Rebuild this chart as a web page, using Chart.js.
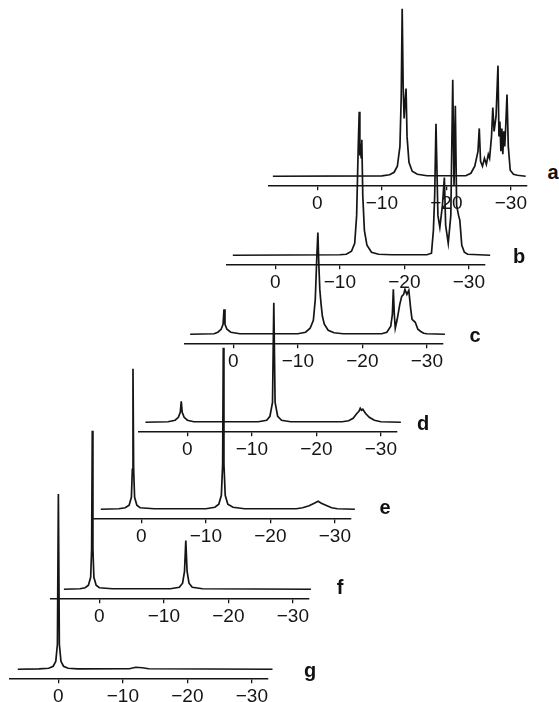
<!DOCTYPE html>
<html>
<head>
<meta charset="utf-8">
<script src="https://cdn.jsdelivr.net/npm/chart.js@4"></script>
<style>
  html, body { margin: 0; padding: 0; background: #fff; }
  #stage { position: relative; width: 559px; height: 702px; overflow: hidden; }
  #stage canvas { position: absolute; }
  .tag { position: absolute; font: bold 20px "Liberation Sans", Arial, sans-serif; color: #111; transform: translate(-50%, -50%); }
</style>
</head>
<body>
<div id="stage"></div>
<script>
const traces = ['a', 'b', 'c', 'd', 'e', 'f', 'g'];
const tickValues = [0, -10, -20, -30];

// chemical shift (ppm) and signal height
const aShift = [6.9, -10, -11.2, -11.9, -12.4, -12.8, -13.0, -13.15, -13.3, -13.45, -13.6, -13.75, -13.9, -14.2, -14.7, -15.5, -17, -23.0, -23.8, -24.4, -24.9, -25.1, -25.3, -25.6, -25.9, -26.2, -26.5, -26.7, -27.0, -27.2, -27.4, -27.7, -28.0, -28.15, -28.3, -28.45, -28.6, -28.75, -28.9, -29.05, -29.2, -29.4, -29.6, -29.9, -30.4, -31, -32.3];
const aHeight = [0, 0.3, 1.5, 4, 10, 30, 80, 168, 90, 58, 75, 88, 40, 14, 5, 2, 0.5, 0.5, 3, 10, 25, 48, 15, 10, 18, 12, 22, 18, 40, 69, 45, 60, 111, 40, 55, 25, 48, 22, 45, 30, 50, 82, 30, 6, 2, 1, 0];

const bShift = [6.6, -10, -11, -11.8, -12.3, -12.6, -12.85, -13.0, -13.1, -13.2, -13.3, -13.4, -13.55, -13.8, -14.2, -14.9, -16, -18, -23.5, -24.2, -24.5, -24.7, -24.9, -25.2, -25.5, -25.9, -26.2, -26.4, -26.8, -27.2, -27.5, -27.7, -27.9, -28.1, -28.4, -28.6, -28.9, -29.3, -29.8, -33.3];
const bHeight = [0, 0.5, 1, 4, 12, 40, 110, 144, 100, 112, 98, 116, 60, 25, 10, 3, 1, 0.5, 0.5, 2, 25, 60, 132, 40, 28, 50, 78, 30, 12, 40, 176, 70, 150, 50, 40, 35, 10, 3, 1, 0];

const cShift = [6.7, 3, 2.4, 1.9, 1.6, 1.45, 1.3, 1.0, 0.4, -1, -10, -11.2, -11.9, -12.4, -12.7, -12.95, -13.1, -13.25, -13.4, -13.6, -13.8, -14.1, -14.7, -15.6, -17, -23.0, -23.8, -24.4, -24.65, -24.8, -24.95, -25.1, -25.4, -25.8, -26.1, -26.4, -26.6, -26.9, -27.2, -27.5, -27.7, -28.2, -28.6, -29.0, -29.5, -30, -32.8];
const cHeight = [0, 0.5, 2, 5, 10, 25, 10, 5, 2, 0.5, 0.5, 2, 6, 14, 35, 80, 102, 70, 45, 30, 18, 10, 4, 1.5, 0.5, 0.5, 2, 8, 20, 45, 20, 6, 15, 30, 38, 40, 45, 40, 44, 25, 15, 12, 5, 3, 1, 0.5, 0];

const dShift = [6.5, 3, 1.9, 1.4, 1.1, 0.95, 0.8, 0.5, 0, -1, -11, -12.3, -12.8, -13.2, -13.4, -13.6, -14, -14.6, -16, -24, -25, -25.7, -26.3, -26.6, -26.8, -27.0, -27.2, -27.6, -28.2, -29, -30, -33.1];
const dHeight = [0, 0.5, 2, 5, 10, 21, 10, 5, 2, 0.5, 0.5, 2, 6, 20, 120, 20, 6, 2, 0.5, 0.5, 1.5, 4, 9, 11, 14, 12, 13, 9, 5, 2, 0.5, 0];

const eShift = [6.3, 3.5, 2.5, 1.9, 1.55, 1.4, 1.3, 1.2, 1.05, 0.7, 0.2, -2, -10, -11.4, -12.0, -12.4, -12.6, -12.7, -12.8, -13.0, -13.4, -14.2, -16, -24, -25, -26, -26.8, -27.4, -27.9, -28.6, -29.5, -30.4, -33.1];
const eHeight = [0, 0.5, 1.5, 4, 12, 40, 141, 40, 12, 4, 1.5, 0.5, 0.5, 2, 5, 14, 45, 162, 45, 14, 5, 2, 0.5, 0.5, 1.5, 3.5, 6, 8, 6, 4, 1.5, 0.5, 0];

const fShift = [5.5, 3, 2.2, 1.7, 1.35, 1.2, 1.1, 1.0, 0.85, 0.5, 0, -2, -11, -12.4, -12.9, -13.2, -13.4, -13.6, -13.9, -14.4, -16, -32.8];
const fHeight = [0, 0.5, 1.5, 4, 12, 40, 159, 40, 12, 4, 1.5, 0.5, 0.5, 2, 6, 18, 49, 18, 6, 2, 0.5, 0];

const gShift = [6.3, 3, 1.5, 0.8, 0.4, 0.15, 0, -0.15, -0.4, -0.8, -1.5, -3, -11, -12, -13, -14, -33.2];
const gHeight = [0, 0.3, 1, 3, 8, 25, 176, 25, 8, 3, 1, 0.3, 0.5, 2, 1.5, 0.5, 0];

const shifts = [aShift, bShift, cShift, dShift, eShift, fShift, gShift];
const heights = [aHeight, bHeight, cHeight, dHeight, eHeight, fHeight, gHeight];

// page layout: where each trace's 0 ppm tick and axis line land, and its letter
const zeroX = [317, 275, 233, 187, 141, 99, 58];
const axisY = [186, 265, 344, 432, 519, 599, 679];
const tagX = [553, 519, 475, 423, 385, 340, 310];
const tagY = [172, 256, 335, 423, 507, 587, 670];

const stage = document.getElementById('stage');
const ink = '#151515';
const labelFont = { family: '"Liberation Sans", Arial, sans-serif', size: 19 };

traces.forEach((name, i) => {
  const canvas = document.createElement('canvas');
  canvas.width = 282;
  canvas.height = 262;
  stage.appendChild(canvas);

  const chart = new Chart(canvas, {
    type: 'line',
    data: {
      datasets: [{
        label: name,
        data: shifts[i].map((x, k) => ({ x: x, y: heights[i][k] })),
        borderColor: ink,
        borderWidth: 1.7,
        pointRadius: 0,
        tension: 0,
        fill: false,
        clip: false
      }]
    },
    options: {
      responsive: false,
      animation: false,
      devicePixelRatio: 1,
      layout: { padding: { left: 12, right: 12, top: 0, bottom: 0 } },
      plugins: { legend: { display: false }, tooltip: { enabled: false } },
      scales: {
        x: {
          type: 'linear',
          reverse: true,
          min: -32.5,
          max: 7.5,
          afterBuildTicks: s => { s.ticks = tickValues.map(v => ({ value: v })); },
          border: { display: true, color: ink, width: 1.6 },
          grid: { display: true, drawOnChartArea: false, drawTicks: true, tickLength: 4, color: ink, lineWidth: 1.3 },
          ticks: {
            color: ink,
            font: labelFont,
            padding: 2,
            maxRotation: 0,
            autoSkip: false,
            callback: v => v === 0 ? '0' : '\u2212' + Math.abs(v)
          }
        },
        y: { display: false, min: -10, max: 200 }
      }
    }
  });

  // one unit of height = one pixel, baseline 10 px above the axis line
  const area = chart.chartArea;
  chart.options.scales.y.max = (area.bottom - area.top) - 10;
  chart.update('none');
  const x0 = chart.scales.x.getPixelForValue(0);
  canvas.style.left = (zeroX[i] - x0) + 'px';
  canvas.style.top = (axisY[i] - chart.chartArea.bottom) + 'px';

  const tag = document.createElement('div');
  tag.className = 'tag';
  tag.textContent = name;
  tag.style.left = tagX[i] + 'px';
  tag.style.top = tagY[i] + 'px';
  stage.appendChild(tag);
});
</script>
</body>
</html>
